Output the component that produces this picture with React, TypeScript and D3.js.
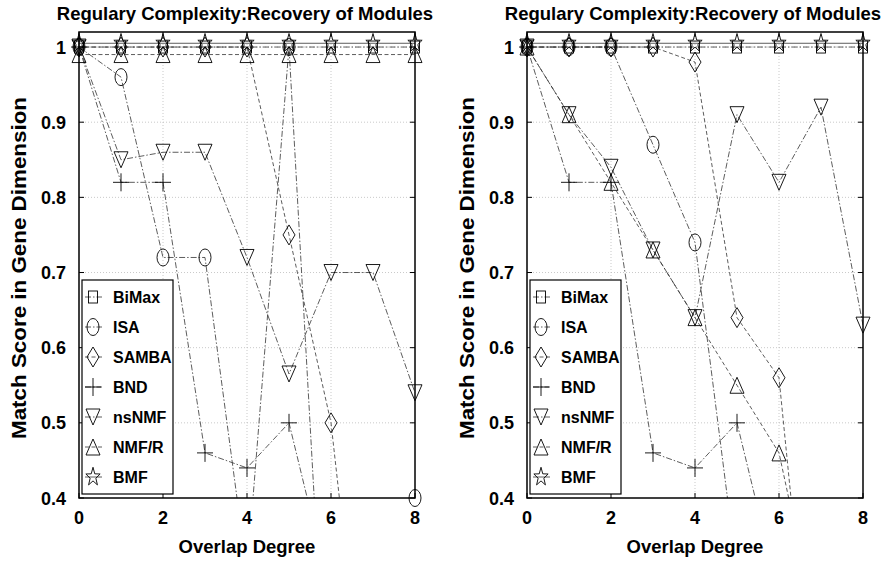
import React from 'react';
import * as d3 from 'd3';

// overlap degree on the x axis
const overlap = [0, 1, 2, 3, 4, 5, 6, 7, 8];
const xTicks = [0, 2, 4, 6, 8];
const yTicks = [0.4, 0.5, 0.6, 0.7, 0.8, 0.9, 1];
const yTickLabels = ['0.4', '0.5', '0.6', '0.7', '0.8', '0.9', '1'];
const methods = ['BiMax', 'ISA', 'SAMBA', 'BND', 'nsNMF', 'NMF/R', 'BMF'];

// left panel (values under 0.4 run off the axes)
const leftBiMax = [1, 1, 1, 1, 1, 1, 1, 1, 1];
const leftISA = [1, 0.96, 0.72, 0.72, 0.3, 1, 0.0, 0.2, 0.4];
const leftSAMBA = [1, 1, 1, 1, 1, 0.75, 0.5, 0.0, 0.1];
const leftBND = [1, 0.82, 0.82, 0.46, 0.44, 0.5, 0.27, 0.1, 0.1];
const leftNsNMF = [1, 0.85, 0.86, 0.86, 0.72, 0.565, 0.7, 0.7, 0.54];
const leftNMFR = [0.99, 0.99, 0.99, 0.99, 0.99, 0.99, 0.99, 0.99, 0.99];
const leftBMF = [1.005, 1.005, 1.005, 1.005, 1.005, 1.005, 1.005, 1.005, 1.005];

// right panel
const rightBiMax = [1, 1, 1, 1, 1, 1, 1, 1, 1];
const rightISA = [1, 1, 1, 0.87, 0.74, 0.3, 0.1, 0.1, 0.1];
const rightSAMBA = [1, 1, 1, 1, 0.98, 0.64, 0.56, 0.0, 0.0];
const rightBND = [1, 0.82, 0.82, 0.46, 0.44, 0.5, 0.27, 0.1, 0.1];
const rightNsNMF = [1, 0.91, 0.84, 0.73, 0.64, 0.91, 0.82, 0.92, 0.63];
const rightNMFR = [1, 0.91, 0.82, 0.73, 0.64, 0.55, 0.46, 0.2, 0.1];
const rightBMF = [1.005, 1.005, 1.005, 1.005, 1.005, 1.005, 1.005, 1.005, 1.005];

const markerKinds = ['square', 'circle', 'diamond', 'plus', 'tridown', 'triup', 'star'];
const dashes = ['6,2,1.5,2', '6,2,1.5,2', '4,2.5', '6,2,1.5,2', '6,2,1.5,2', '4,2.5', ''];

const FONT = '"Liberation Sans", Arial, Helvetica, sans-serif';

const starPoints = (() => {
  const pts: string[] = [];
  for (let i = 0; i < 10; i++) {
    const a = -Math.PI / 2 + (i * Math.PI) / 5;
    const r = i % 2 === 0 ? 7.5 : 3;
    pts.push(`${(Math.cos(a) * r).toFixed(2)},${(Math.sin(a) * r * 1.3).toFixed(2)}`);
  }
  return pts.join(' ');
})();

function Marker({ kind, x, y }: { kind: string; x: number; y: number }) {
  const common = { fill: 'none', stroke: '#000', strokeWidth: 0.9 };
  const t = `translate(${x},${y})`;
  switch (kind) {
    case 'square':
      return <rect transform={t} x={-4.5} y={-6} width={9} height={12} {...common} />;
    case 'circle':
      return <ellipse transform={t} rx={6} ry={8.5} {...common} />;
    case 'diamond':
      return <polygon transform={t} points="0,-10 6,0 0,10 -6,0" {...common} />;
    case 'plus':
      return (
        <g transform={t} {...common}>
          <line x1={-8} y1={0} x2={8} y2={0} />
          <line x1={0} y1={-9} x2={0} y2={9} />
        </g>
      );
    case 'tridown':
      return <polygon transform={t} points="-7,-8 7,-8 0,8" {...common} />;
    case 'triup':
      return <polygon transform={t} points="-7,8 7,8 0,-8" {...common} />;
    default:
      return <polygon transform={t} points={starPoints} {...common} />;
  }
}

const TOP = 32;
const BOTTOM = 498;

function Panel({ left, right, series, id, labelX }: { left: number; right: number; series: number[][]; id: string; labelX: number }) {
  const x = d3.scaleLinear().domain([0, 8]).range([left, right]);
  const y = d3.scaleLinear().domain([0.4, 1.02]).range([BOTTOM, TOP]);
  const line = d3
    .line<number>()
    .x((_, i) => x(overlap[i]))
    .y((d) => y(d));
  const cx = (left + right) / 2;
  const lx = left + 3;
  const ly = 280;
  return (
    <g fontFamily={FONT} fontWeight="bold">
      <defs>
        <clipPath id={`clip-${id}`}>
          <rect x={left} y={TOP} width={right - left} height={BOTTOM - TOP} />
        </clipPath>
      </defs>
      {/* grid */}
      {xTicks.slice(1, -1).map((t) => (
        <line key={`gx${t}`} x1={x(t)} x2={x(t)} y1={TOP} y2={BOTTOM} stroke="#bbb" strokeWidth={0.8} strokeDasharray="1,2" />
      ))}
      {yTicks.slice(1).map((t) => (
        <line key={`gy${t}`} x1={left} x2={right} y1={y(t)} y2={y(t)} stroke="#bbb" strokeWidth={0.8} strokeDasharray="1,2" />
      ))}
      {/* series lines */}
      <g clipPath={`url(#clip-${id})`}>
        {series.map((s, i) => (
          <path key={`l${i}`} d={line(s) as string} fill="none" stroke="#333" strokeWidth={0.8} strokeDasharray={dashes[i]} />
        ))}
      </g>
      {/* markers */}
      {series.map((s, i) =>
        s.map((v, j) =>
          v >= 0.4 ? <Marker key={`m${i}-${j}`} kind={markerKinds[i]} x={x(overlap[j])} y={y(v)} /> : null
        )
      )}
      {/* box and ticks */}
      <rect x={left} y={TOP} width={right - left} height={BOTTOM - TOP} fill="none" stroke="#000" strokeWidth={1.5} />
      {xTicks.map((t) => (
        <g key={`tx${t}`} stroke="#000" strokeWidth={1}>
          <line x1={x(t)} x2={x(t)} y1={BOTTOM} y2={BOTTOM - 5} />
          <line x1={x(t)} x2={x(t)} y1={TOP} y2={TOP + 5} />
        </g>
      ))}
      {yTicks.map((t) => (
        <g key={`ty${t}`} stroke="#000" strokeWidth={1}>
          <line x1={left} x2={left + 5} y1={y(t)} y2={y(t)} />
          <line x1={right} x2={right - 5} y1={y(t)} y2={y(t)} />
        </g>
      ))}
      {xTicks.map((t) => (
        <text key={`lx${t}`} x={x(t)} y={524} fontSize={18} textAnchor="middle">
          {t}
        </text>
      ))}
      {yTicks.map((t, i) => (
        <text key={`ly${t}`} x={left - 13} y={y(t) + 6.5} fontSize={18} textAnchor="end">
          {yTickLabels[i]}
        </text>
      ))}
      <text x={cx - 2} y={20} fontSize={18.5} textAnchor="middle">
        Regulary Complexity:Recovery of Modules
      </text>
      <text x={cx} y={553} fontSize={18.5} textAnchor="middle">
        Overlap Degree
      </text>
      <text
        transform={`translate(${labelX},${268}) rotate(-90)`}
        fontSize={20}
        textAnchor="middle"
        textLength={342}
        lengthAdjust="spacingAndGlyphs"
      >
        Match Score in Gene Dimension
      </text>
      {/* legend */}
      <rect x={lx} y={ly} width={91} height={214} fill="#fff" stroke="#000" strokeWidth={1.2} />
      {methods.map((m, i) => {
        const yy = ly + 17 + i * 30;
        return (
          <g key={`lg${m}`}>
            <line x1={lx + 3} x2={lx + 20} y1={yy} y2={yy} stroke="#333" strokeWidth={0.8} strokeDasharray={dashes[i]} />
            <Marker kind={markerKinds[i]} x={lx + 11} y={yy} />
            <text x={lx + 31} y={yy + 6} fontSize={16}>
              {m}
            </text>
          </g>
        );
      })}
    </g>
  );
}

export default function App() {
  const leftSeries = [leftBiMax, leftISA, leftSAMBA, leftBND, leftNsNMF, leftNMFR, leftBMF];
  const rightSeries = [rightBiMax, rightISA, rightSAMBA, rightBND, rightNsNMF, rightNMFR, rightBMF];
  return (
    <svg width={892} height={561} style={{ position: 'absolute', left: 0, top: 0, background: '#fff' }}>
      <rect width={892} height={561} fill="#fff" />
      <Panel left={79} right={415} series={leftSeries} id="a" labelX={26} />
      <Panel left={527} right={863} series={rightSeries} id="b" labelX={474} />
    </svg>
  );
}
